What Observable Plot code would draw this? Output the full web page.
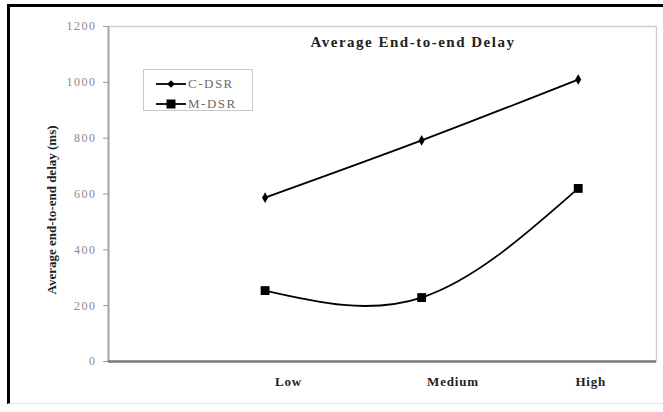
<!DOCTYPE html>
<html>
<head>
<meta charset="utf-8">
<script src="https://cdn.jsdelivr.net/npm/d3@7"></script>
<script src="https://cdn.jsdelivr.net/npm/@observablehq/plot@0.6"></script>
<style>
  html, body { margin: 0; padding: 0; background: #fff; }
  #wrap { position: relative; width: 663px; height: 412px; overflow: hidden; font-family: "Liberation Serif", "Times New Roman", serif; }
  #frame { position: absolute; left: 7px; top: 4px; width: 700px; height: 396px; border-top: 3px solid #000; border-left: 3px solid #000; border-bottom: 1px solid #e4e4e4; pointer-events: none; }
  #title { position: absolute; left: 413px; top: 34px; transform: translateX(-50%); white-space: nowrap; font-weight: bold; font-size: 15px; letter-spacing: 1.5px; color: #222; }
  #legend { position: absolute; left: 143px; top: 69px; width: 110px; height: 42px; border: 1px solid #c8c8c8; box-sizing: border-box; }
  .lg-row { position: absolute; left: 11px; height: 16px; display: flex; align-items: center; font-size: 13px; letter-spacing: 1.5px; color: #6a6a6a; }
  svg.chart g[aria-label="y-axis tick label"] text { letter-spacing: 1.5px; }
  svg.chart g[aria-label="x-axis tick label"] text { letter-spacing: 0.8px; }
</style>
</head>
<body>
<div id="wrap">
  <div id="chart"></div>
  <div id="title"></div>
  <div id="legend"></div>
  <div id="frame"></div>
</div>
<script>
// ---- data ----
const categories = ["Low", "Medium", "High"];
const categoryPos = [1, 2, 3];
const labelPos = [1.15, 2.2, 3.08];
const cdsr = [587, 792, 1010];
const mdsr = [254, 229, 620];
const seriesNames = ["C-DSR", "M-DSR"];
const yTicks = [0, 200, 400, 600, 800, 1000, 1200];
const titleText = "Average End-to-end Delay";
const yLabel = "Average end-to-end delay (ms)";

const rowsC = categories.map((c, i) => ({cat: c, x: categoryPos[i], y: cdsr[i]}));
const rowsM = categories.map((c, i) => ({cat: c, x: categoryPos[i], y: mdsr[i]}));

const chart = Plot.plot({
  width: 663,
  height: 412,
  marginLeft: 108,
  marginRight: 7,
  marginTop: 26,
  marginBottom: 51,
  className: "chart",
  style: {fontFamily: "'Liberation Serif', 'Times New Roman', serif", background: "transparent", overflow: "visible"},
  x: {domain: [0, 3.5]},
  y: {domain: [0, 1200]},
  marks: [
    Plot.frame({stroke: "#cfcfcf", strokeWidth: 1.5}),
    Plot.ruleX([0], {stroke: "#a8a8a8", strokeWidth: 2}),
    Plot.ruleY([0], {stroke: "#7a7a7a", strokeWidth: 2.5}),
    Plot.axisY({ticks: yTicks, tickSize: 5, tickPadding: 7, stroke: "#999", fill: "#8a8a8a", fontSize: 12, label: null, tickFormat: d => String(d)}),
    Plot.text([yLabel], {frameAnchor: "left", textAnchor: "middle", dx: -57, dy: 16, rotate: -90, fontWeight: "bold", fontSize: 13, fill: "#222"}),
    Plot.axisX({ticks: labelPos, tickSize: 0, tickPadding: 15, fill: "#222", fontWeight: "bold", fontSize: 13, label: null,
      tickFormat: d => categories[labelPos.indexOf(d)]}),
    Plot.line(rowsC, {x: "x", y: "y", curve: "natural", stroke: "#000", strokeWidth: 1.8}),
    Plot.dot(rowsC, {x: "x", y: "y", symbol: "diamond", r: 3.2, fill: "#000", stroke: "none"}),
    Plot.line(rowsM, {x: "x", y: "y", curve: "natural", stroke: "#000", strokeWidth: 1.8}),
    Plot.dot(rowsM, {x: "x", y: "y", symbol: "square", r: 5, fill: "#000", stroke: "none"})
  ]
});
document.getElementById("chart").appendChild(chart);
document.getElementById("title").textContent = titleText;

// legend
const legend = document.getElementById("legend");
const sym = [
  '<svg width="32" height="12"><line x1="1" y1="6" x2="31" y2="6" stroke="#000" stroke-width="1.8"/><path d="M16,2.2L19.8,6L16,9.8L12.2,6Z" fill="#000"/></svg>',
  '<svg width="32" height="12"><line x1="1" y1="6" x2="31" y2="6" stroke="#000" stroke-width="1.8"/><rect x="11.5" y="1.5" width="9" height="9" fill="#000"/></svg>'
];
seriesNames.forEach((name, i) => {
  const row = document.createElement("div");
  row.className = "lg-row";
  row.style.top = (6 + i * 20) + "px";
  row.innerHTML = sym[i] + '<span style="margin-left:1px">' + name + '</span>';
  legend.appendChild(row);
});
</script>
</body>
</html>
